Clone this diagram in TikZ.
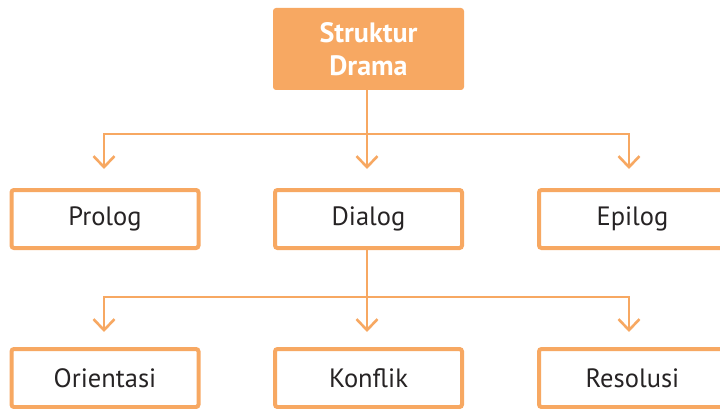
\documentclass[tikz,border=0pt]{standalone}
\usepackage{fontspec}
\setmainfont{PT Sans}
\usetikzlibrary{arrows.meta}
\definecolor{org}{HTML}{F7A862}
\definecolor{txt}{HTML}{262324}
\begin{document}
\begin{tikzpicture}[x=1pt,y=-1pt,
  box/.style={draw=org,line width=4pt,rounded corners=2.5pt,fill=white,
    minimum width=187pt,minimum height=58pt,inner sep=0pt,text=txt,
    font=\fontsize{26.5}{30}\selectfont},
  topbox/.style={fill=org,rounded corners=3pt,minimum width=191pt,minimum height=82pt,
    inner sep=0pt,text=white,align=center,font=\fontsize{28}{33}\selectfont\bfseries},
  conn/.style={draw=org,line width=2.6pt},
  arr/.style={conn,-{Straight Barb[length=11pt,width=21pt,line width=2.6pt]}}]
\useasboundingbox (0,0) rectangle (720,409);
\node[topbox] (top) at (368.5,49) {Struktur\\Drama};
\node[box] (prolog) at (105,219) {Prolog};
\node[box] (dialog) at (368.5,219) {Dialog};
\node[box] (epilog) at (632.5,219) {Epilog};
\node[box] (orient) at (105,378) {Orientasi};
\node[box] (konflik) at (368.5,378) {Konflik};
\node[box] (resol) at (632.5,378) {Resolusi};
% bus 1
\coordinate (b1l) at (104,134);
\coordinate (b1m) at (367,134);
\coordinate (b1r) at (629,134);
\coordinate (t1l) at (104,169);
\coordinate (t1m) at (367,169);
\coordinate (t1r) at (629,169);
\draw[conn] (top.south -| b1m) -- (b1m);
\draw[conn,line cap=rect] (b1l) -- (b1r);
\draw[arr] (b1l) -- (t1l);
\draw[arr] (b1m) -- (t1m);
\draw[arr] (b1r) -- (t1r);
% bus 2
\coordinate (b2l) at (104,297);
\coordinate (b2m) at (367,297);
\coordinate (b2r) at (629,297);
\coordinate (t2l) at (104,332);
\coordinate (t2m) at (367,332);
\coordinate (t2r) at (629,332);
\draw[conn] (dialog.south -| b2m) -- (b2m);
\draw[conn,line cap=rect] (b2l) -- (b2r);
\draw[arr] (b2l) -- (t2l);
\draw[arr] (b2m) -- (t2m);
\draw[arr] (b2r) -- (t2r);
\end{tikzpicture}
\end{document}
